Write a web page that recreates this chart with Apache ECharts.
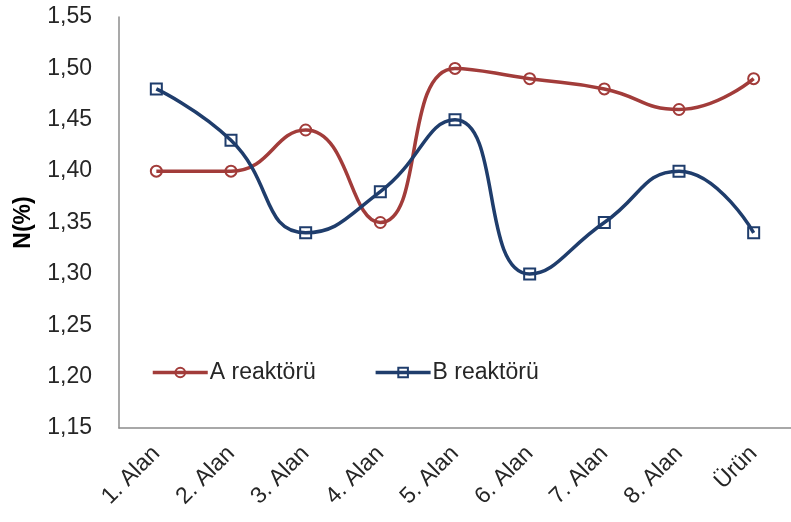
<!DOCTYPE html>
<html>
<head>
<meta charset="utf-8">
<script src="https://cdn.jsdelivr.net/npm/echarts@6/dist/echarts.min.js"></script>
<style>
  html, body { margin: 0; padding: 0; background: #fff; }
  #chart { width: 791px; height: 522px; }
</style>
</head>
<body>
<div id="chart"></div>
<script>
// Sampling areas along the process line
const categories = ['1. Alan', '2. Alan', '3. Alan', '4. Alan', '5. Alan', '6. Alan', '7. Alan', '8. Alan', 'Ürün'];
// Nitrogen content (%) per reactor
const reactorA = [1.40, 1.40, 1.44, 1.35, 1.50, 1.49, 1.48, 1.46, 1.49];
const reactorB = [1.48, 1.43, 1.34, 1.38, 1.45, 1.30, 1.35, 1.40, 1.34];
const seriesNames = ['A reaktörü', 'B reaktörü'];
const yAxisName = 'N(%)';

const FONT = 'Liberation Sans, Arial, sans-serif';
const TEXT = '#262626';
const AXIS = '#8c8c8c';
const RED = '#a23c3a';
const BLUE = '#1f3d6c';

const chart = echarts.init(document.getElementById('chart'), null, { renderer: 'canvas' });

chart.setOption({
  animation: false,
  backgroundColor: '#ffffff',
  textStyle: { fontFamily: FONT },
  grid: { left: 119, top: 17, width: 682, height: 411, containLabel: false },
  legend: {
    left: 146,
    top: 356,
    itemWidth: 55,
    itemHeight: 12,
    itemGap: 58,
    lineStyle: { width: 3.5 },
    textStyle: { fontFamily: FONT, fontSize: 23, color: TEXT, padding: [0, 0, 0, -3] },
    data: seriesNames
  },
  xAxis: {
    type: 'category',
    data: categories,
    boundaryGap: true,
    axisLine: { lineStyle: { color: AXIS, width: 1.5 } },
    axisTick: { alignWithLabel: true, length: 6, lineStyle: { color: AXIS, width: 1.5 } },
    axisLabel: {
      rotate: 45,
      margin: 22,
      interval: 0,
      fontFamily: FONT,
      fontSize: 23,
      color: TEXT
    },
    splitLine: { show: false }
  },
  yAxis: {
    type: 'value',
    min: 1.15,
    max: 1.55,
    interval: 0.05,
    name: yAxisName,
    nameLocation: 'middle',
    nameGap: 84,
    nameTextStyle: { fontFamily: FONT, fontSize: 23, fontWeight: 'bold', color: '#000' },
    axisLine: { show: true, lineStyle: { color: AXIS, width: 1.5 } },
    axisTick: { show: false },
    splitLine: { show: false },
    axisLabel: {
      margin: 27,
      fontFamily: FONT,
      fontSize: 23,
      color: TEXT,
      formatter: v => v.toFixed(2).replace('.', ',')
    }
  },
  series: [
    {
      name: seriesNames[0],
      type: 'line',
      data: reactorA,
      smooth: 0.5,
      symbol: 'circle',
      symbolSize: 11,
      lineStyle: { color: RED, width: 3.5 },
      itemStyle: { color: 'rgba(255,255,255,0)', borderColor: RED, borderWidth: 2 },
      z: 2
    },
    {
      name: seriesNames[1],
      type: 'line',
      data: reactorB,
      smooth: 0.5,
      symbol: 'rect',
      symbolSize: 11,
      lineStyle: { color: BLUE, width: 3.5 },
      itemStyle: { color: 'rgba(255,255,255,0)', borderColor: BLUE, borderWidth: 2 },
      z: 3
    }
  ]
});
</script>
</body>
</html>
